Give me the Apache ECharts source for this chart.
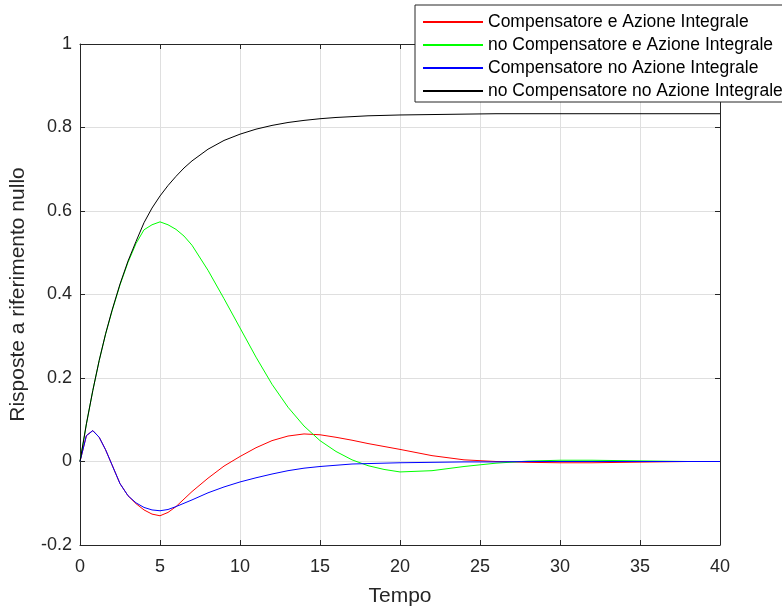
<!DOCTYPE html>
<html>
<head>
<meta charset="utf-8">
<script src="https://cdn.jsdelivr.net/npm/echarts@6/dist/echarts.min.js"></script>
<style>
html,body{margin:0;padding:0;background:#fff;}
#chart{width:782px;height:612px;}
</style>
</head>
<body>
<div id="chart"></div>
<script>
// Time samples (x)
const tempo = [0, 0.4, 0.8, 1.2, 1.6, 2, 2.5, 3, 3.5, 4, 4.5, 5, 5.5, 6, 6.5, 7, 8, 9, 10, 11, 12, 13, 14, 15, 16, 17, 18, 19, 20, 22, 24, 26, 28, 30, 32, 34, 36, 38, 40];

// Series values (y)
const compEInt = [0, 0.062, 0.074, 0.058, 0.028, -0.008, -0.053, -0.082, -0.101, -0.116, -0.126, -0.130, -0.122, -0.108, -0.090, -0.072, -0.040, -0.011, 0.012, 0.033, 0.050, 0.061, 0.066, 0.064, 0.058, 0.051, 0.043, 0.036, 0.029, 0.014, 0.004, 0.000, -0.002, -0.003, -0.003, -0.002, -0.001, 0.000, 0.000];
const noCompEInt = [0, 0.090, 0.170, 0.242, 0.305, 0.360, 0.423, 0.477, 0.522, 0.555, 0.567, 0.574, 0.567, 0.556, 0.540, 0.518, 0.458, 0.390, 0.320, 0.250, 0.185, 0.130, 0.085, 0.050, 0.024, 0.004, -0.010, -0.019, -0.025, -0.022, -0.012, -0.004, 0.001, 0.003, 0.003, 0.002, 0.001, 0.000, 0.000];
const compNoInt = [0, 0.062, 0.074, 0.058, 0.028, -0.008, -0.053, -0.082, -0.099, -0.110, -0.116, -0.118, -0.115, -0.108, -0.100, -0.092, -0.075, -0.061, -0.049, -0.039, -0.030, -0.022, -0.016, -0.012, -0.009, -0.006, -0.005, -0.004, -0.003, -0.002, -0.001, -0.001, 0.000, 0.000, 0.000, 0.000, 0.000, 0.000, 0.000];
const noCompNoInt = [0, 0.090, 0.170, 0.242, 0.306, 0.362, 0.425, 0.480, 0.527, 0.572, 0.607, 0.636, 0.661, 0.683, 0.703, 0.720, 0.748, 0.769, 0.784, 0.796, 0.805, 0.812, 0.817, 0.821, 0.824, 0.826, 0.828, 0.829, 0.830, 0.831, 0.832, 0.833, 0.833, 0.833, 0.833, 0.833, 0.833, 0.833, 0.833];

const seriesNames = ['Compensatore e Azione Integrale', 'no Compensatore e Azione Integrale', 'Compensatore no Azione Integrale', 'no Compensatore no Azione Integrale'];
const seriesData = [compEInt, noCompEInt, compNoInt, noCompNoInt];
const seriesColors = ['#ff0000', '#00ff00', '#0000ff', '#000000'];

const xTicks = {min: 0, max: 40, interval: 5};
const yTicks = {min: -0.2, max: 1, interval: 0.2};

const axisColor = '#262626';
const font = 'Liberation Sans, Arial, sans-serif';

const chart = echarts.init(document.getElementById('chart'), null, {renderer: 'canvas'});

function xAx(pos, main) {
  return {
    type: 'value', position: pos, min: xTicks.min, max: xTicks.max, interval: xTicks.interval,
    name: main ? 'Tempo' : '', nameLocation: 'middle', nameGap: 41,
    nameTextStyle: {fontFamily: font, fontSize: 21, color: axisColor},
    axisLine: {show: true, onZero: false, lineStyle: {color: axisColor, width: 1}},
    axisTick: {show: true, inside: true, length: 5, lineStyle: {color: axisColor}},
    axisLabel: {show: main, margin: 13, fontFamily: font, fontSize: 18, color: axisColor},
    splitLine: {show: main, lineStyle: {color: '#dfdfdf', width: 1}}
  };
}
function yAx(pos, main) {
  return {
    type: 'value', position: pos, min: yTicks.min, max: yTicks.max, interval: yTicks.interval,
    name: main ? 'Risposte a riferimento nullo' : '', nameLocation: 'middle', nameGap: 51,
    nameTextStyle: {fontFamily: font, fontSize: 21, color: axisColor},
    axisLine: {show: true, onZero: false, lineStyle: {color: axisColor, width: 1}},
    axisTick: {show: true, inside: true, length: 5, lineStyle: {color: axisColor}},
    axisLabel: {show: main, margin: 8, fontFamily: font, fontSize: 18, color: axisColor},
    splitLine: {show: main, lineStyle: {color: '#dfdfdf', width: 1}}
  };
}

chart.setOption({
  animation: false,
  backgroundColor: '#ffffff',
  grid: {left: 80, top: 44, width: 640, height: 504, containLabel: false},
  xAxis: [xAx('bottom', true), xAx('top', false)],
  yAxis: [yAx('left', true), yAx('right', false)],
  legend: {
    show: true, orient: 'vertical', left: 415, top: 5,
    data: seriesNames,
    itemWidth: 60, itemHeight: 14, itemGap: 5,
    padding: [8, 10, 2, 7],
    itemStyle: {opacity: 0},
    backgroundColor: '#ffffff', borderColor: axisColor, borderWidth: 1, borderRadius: 0,
    textStyle: {fontFamily: font, fontSize: 17.5, color: '#000000'},
    selectedMode: false
  },
  series: seriesData.map((d, i) => ({
    name: seriesNames[i], type: 'line', xAxisIndex: 0, yAxisIndex: 0,
    data: tempo.map((t, k) => [t, d[k]]),
    symbol: 'none', smooth: false,
    lineStyle: {color: seriesColors[i], width: 1},
    itemStyle: {color: seriesColors[i]}
  }))
});
</script>
</body>
</html>
